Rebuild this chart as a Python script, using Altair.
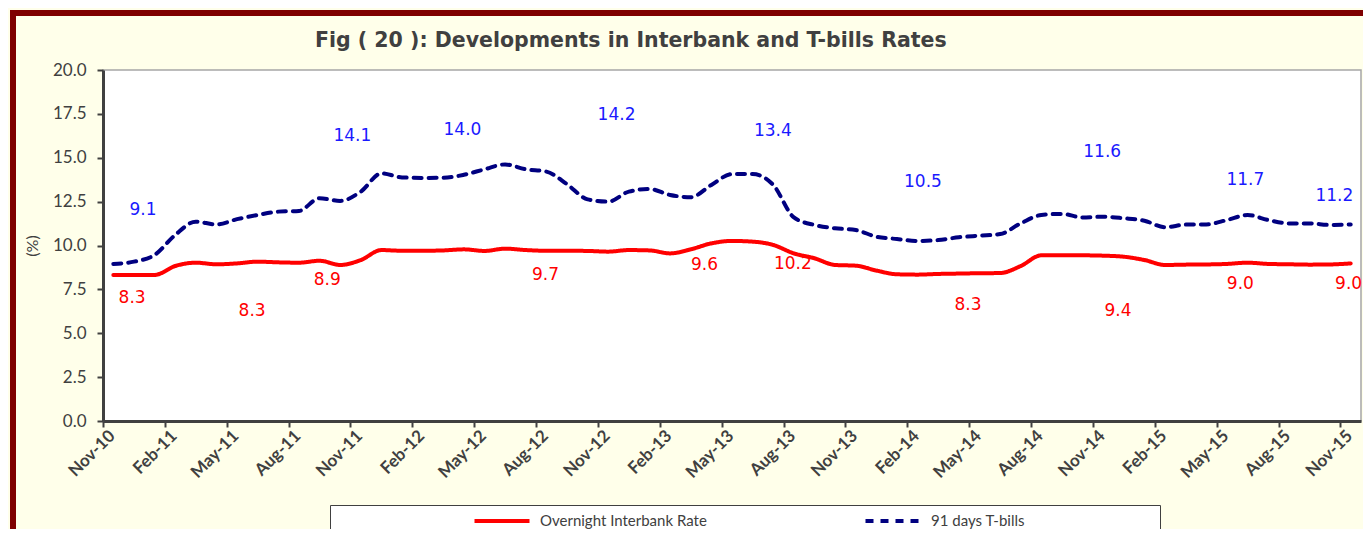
import altair as alt
import pandas as pd

# ---------------- data ----------------
month_abbr = ["Jan", "Feb", "Mar", "Apr", "May", "Jun",
              "Jul", "Aug", "Sep", "Oct", "Nov", "Dec"]
# 61 monthly observations, Nov-10 ... Nov-15
months = []
for k in range(61):
    m = (10 + k) % 12
    y = 10 + (10 + k) // 12
    months.append(f"{month_abbr[m]}-{y:02d}")

overnight = [8.32, 8.32, 8.32, 8.83, 9.02, 8.93, 8.98, 9.08, 9.04, 9.02,
             9.13, 8.89, 9.17, 9.74, 9.70, 9.70, 9.72, 9.78, 9.69, 9.82,
             9.74, 9.70, 9.70, 9.69, 9.65, 9.74, 9.72, 9.55, 9.78, 10.12,
             10.26, 10.22, 10.03, 9.55, 9.27, 8.89, 8.85, 8.57, 8.36, 8.34,
             8.38, 8.40, 8.42, 8.43, 8.83, 9.44, 9.44, 9.44, 9.42, 9.36,
             9.17, 8.89, 8.91, 8.92, 8.95, 9.02, 8.95, 8.93, 8.91, 8.92, 8.98]

tbills = [8.95, 9.08, 9.46, 10.60, 11.36, 11.20, 11.50, 11.74, 11.93, 11.97,
          12.69, 12.54, 13.07, 14.11, 13.88, 13.85, 13.86, 14.03, 14.34, 14.62,
          14.34, 14.21, 13.49, 12.63, 12.50, 13.07, 13.22, 12.88, 12.75, 13.45,
          14.07, 14.07, 13.45, 11.60, 11.17, 10.98, 10.88, 10.50, 10.37, 10.26,
          10.31, 10.47, 10.56, 10.65, 11.26, 11.74, 11.80, 11.60, 11.64, 11.55,
          11.41, 11.04, 11.19, 11.20, 11.45, 11.74, 11.45, 11.26, 11.26, 11.17, 11.20]

series_names = ["Overnight Interbank Rate", "91 days T-bills"]

tick_labels = ["Nov-10", "Feb-11", "May-11", "Aug-11", "Nov-11", "Feb-12", "May-12",
               "Aug-12", "Nov-12", "Feb-13", "May-13", "Aug-13", "Nov-13", "Feb-14",
               "May-14", "Aug-14", "Nov-14", "Feb-15", "May-15", "Aug-15", "Nov-15"]

# data-label annotations (month position, value-axis anchor, text)
blue_lbl_pos = [1.94, 12.09, 17.43, 24.90, 32.48, 39.76, 48.45, 55.39, 59.71]
blue_lbl_y = [12.00, 16.24, 16.58, 17.44, 16.52, 13.62, 15.33, 13.73, 12.82]
blue_lbl_txt = ["9.1", "14.1", "14.0", "14.2", "13.4", "10.5", "11.6", "11.7", "11.2"]

red_lbl_pos = [1.41, 7.23, 10.87, 21.46, 29.17, 33.45, 41.94, 49.22, 55.15, 60.40]
red_lbl_y = [7.01, 6.27, 8.03, 8.32, 8.89, 8.95, 6.61, 6.27, 7.81, 7.81]
red_lbl_txt = ["8.3", "8.3", "8.9", "9.7", "9.6", "10.2", "8.3", "9.4", "9.0", "9.0"]

# ---------------- tables ----------------
rows = []
for i, mth in enumerate(months):
    rows.append({"pos": i + 0.5, "month": mth, "series": series_names[0], "value": overnight[i]})
    rows.append({"pos": i + 0.5, "month": mth, "series": series_names[1], "value": tbills[i]})
df = pd.DataFrame(rows)

lbl_blue = pd.DataFrame({"pos": blue_lbl_pos, "y": blue_lbl_y, "txt": blue_lbl_txt})
lbl_red = pd.DataFrame({"pos": red_lbl_pos, "y": red_lbl_y, "txt": red_lbl_txt})

label_expr = "[" + ",".join(f"'{t}'" for t in tick_labels) + "][round(datum.value/3)]"

FONT = "Lato"
GREY = "#404040"

x_scale = alt.Scale(domain=[0, 61], nice=False, zero=False)
y_scale = alt.Scale(domain=[0, 20], nice=False)

x_axis = alt.Axis(values=list(range(0, 61, 3)), labelExpr=label_expr, labelAngle=-45,
                  labelAlign="right", labelBaseline="middle", labelPadding=6, labelOffset=9,
                  labelFont=FONT, labelFontSize=17, labelFontWeight="bold",
                  labelColor=GREY, tickSize=6, tickColor=GREY, tickWidth=2,
                  domainColor=GREY, domainWidth=3, grid=False, title=None,
                  labelOverlap=False, labelBound=False, labelFlush=False)

y_axis = alt.Axis(values=[0, 2.5, 5, 7.5, 10, 12.5, 15, 17.5, 20], format=".1f",
                  labelFont=FONT, labelFontSize=17, labelColor=GREY, labelPadding=11,
                  tickSize=6, tickColor=GREY, tickWidth=2, domainColor=GREY,
                  domainWidth=3, grid=False, title="(%)", titleFont=FONT,
                  titleFontSize=16, titleFontWeight="normal", titleColor=GREY,
                  titlePadding=12)

lines = alt.Chart(df).mark_line(strokeWidth=4, interpolate="monotone", strokeCap="round").encode(
    x=alt.X("pos:Q", scale=x_scale, axis=x_axis),
    y=alt.Y("value:Q", scale=y_scale, axis=y_axis),
    color=alt.Color("series:N",
                    scale=alt.Scale(domain=series_names, range=["#FF0000", "#000080"]),
                    legend=alt.Legend(orient="none", legendX=227, legendY=435,
                                      direction="horizontal", title=" ",
                                      titleOrient="right", titlePadding=131,
                                      titleFontSize=1,
                                      fillColor="white", strokeColor=GREY, padding=4,
                                      symbolType="M-2.75,0H2.75", symbolSize=400,
                                      symbolStrokeWidth=4, symbolOffset=156,
                                      labelOffset=26, columnPadding=18, gridAlign="all",
                                      labelFont=FONT, labelFontSize=15,
                                      labelColor=GREY, labelLimit=400)),
    strokeDash=alt.StrokeDash("series:N",
                              scale=alt.Scale(domain=series_names, range=[[1, 0], [8, 7]]),
                              legend=None),
    detail="series:N",
)

txt_blue = alt.Chart(lbl_blue).mark_text(font="DejaVu Sans", fontSize=17, color="#1A1AFF").encode(
    x=alt.X("pos:Q", scale=x_scale), y=alt.Y("y:Q", scale=y_scale), text="txt:N")
txt_red = alt.Chart(lbl_red).mark_text(font="DejaVu Sans", fontSize=17, color="#FF0000").encode(
    x=alt.X("pos:Q", scale=x_scale), y=alt.Y("y:Q", scale=y_scale), text="txt:N")

# decorative dark-red frame of the figure
frame = alt.Chart(pd.DataFrame({"k": [0]})).mark_rect(
    fill=None, stroke="#7F0000", strokeWidth=6).encode(
    x=alt.value(-90), x2=alt.value(1400), y=alt.value(-57), y2=alt.value(700))

chart = alt.layer(frame, lines, txt_blue, txt_red).properties(
    width=1258, height=351,
    title=alt.TitleParams("Fig ( 20  ): Developments in Interbank and T-bills Rates",
                          anchor="start", frame="group", dx=212, dy=59, offset=18,
                          font="DejaVu Sans", fontSize=20.5, fontWeight="bold", color=GREY),
    background="#FFFFEA",
    padding={"left": 95, "top": 62, "right": 2, "bottom": 108},
    autosize=alt.AutoSizeParams(type="none"),
).configure_view(fill="white", stroke="#A6A6A6", strokeWidth=1.5)

chart.save("out.html", embed_options={"renderer": "svg", "actions": False})
